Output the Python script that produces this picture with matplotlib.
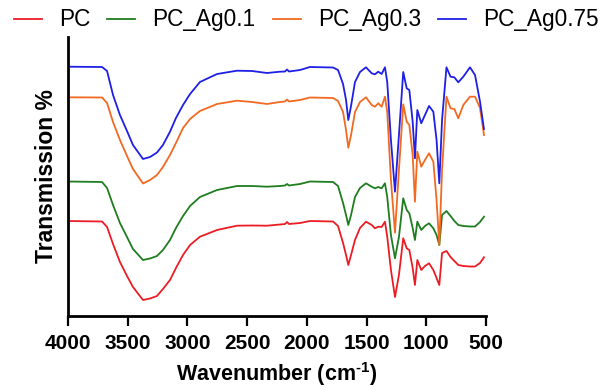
import matplotlib
matplotlib.use('Agg')
import matplotlib.pyplot as plt

# wavenumber positions (cm-1), shared by all spectra
wavenumber = [4000, 3715, 3673, 3623, 3565, 3506, 3456, 3372, 3313, 3255,
              3205, 3146, 3096, 3037, 2978, 2895, 2752, 2585, 2459, 2334,
              2225, 2183, 2166, 2150, 2057, 1974, 1781, 1739, 1697, 1672,
              1653, 1630, 1597, 1555, 1505, 1457, 1430, 1402, 1374, 1346,
              1327, 1296, 1262, 1229, 1193, 1164, 1142, 1114, 1095, 1075,
              1042, 1011, 977, 941, 914, 891, 868, 831, 797, 765,
              732, 690, 634, 592, 550, 517]

# stacked transmission (arbitrary units, offsets included)
t_pc = [95, 94.5, 89, 72, 54, 40, 29, 16, 17.5, 20,
        27, 36, 48, 61, 71, 79.3, 86, 90.3, 90.5, 90.3,
        91.5, 92, 94, 92, 93, 95, 94.5, 90, 73, 61,
        51, 61, 76, 88, 94.3, 91, 87.7, 89.3, 89, 94.3,
        79.3, 46, 19, 41, 77.7, 67.7, 66, 48, 31, 56,
        46, 50, 52.7, 46, 38, 31, 63, 65, 59, 55,
        51, 50, 49.5, 49.5, 53, 58.7]
t_ag01 = [134.5, 134, 128, 111, 93, 79, 67, 56, 57.5, 60,
          66, 76, 88, 100, 110, 119, 126, 130, 130, 129.3,
          130, 130.5, 132, 130.5, 132, 134.5, 134, 130, 113, 101,
          91, 101, 119, 128, 132.7, 129.3, 127.7, 129, 127.7, 132.7,
          119, 81, 57.7, 79, 117.7, 106, 102.7, 88, 76, 94.3,
          86, 90, 92.7, 87.7, 81, 71, 101, 105, 100, 95,
          91, 90, 89.5, 89.5, 94, 99.3]
t_ag03 = [218.7, 218.5, 213, 194, 176, 160, 147, 132.5, 136, 141,
          149, 161, 173, 188, 197, 205, 212, 215.3, 214, 212,
          214, 214.5, 216.5, 214.5, 216, 218.5, 218, 215, 204, 186,
          168.3, 181, 204, 214, 218.7, 211, 209.3, 212.7, 209.3, 219.3,
          204, 136, 83.3, 146, 211.7, 194.3, 191, 161, 114.3, 164.3,
          149.3, 156, 162.7, 154.3, 116, 71, 146, 219.3, 207.7, 207,
          197.7, 211, 219.3, 219.3, 208, 181]
t_ag075 = [249.3, 249, 245, 221, 201, 185, 171, 157, 159, 163.5,
           171, 184.3, 198, 211, 222, 234, 242, 245.3, 245, 243,
           244.3, 244.5, 246.5, 244.5, 246, 249, 248.5, 246, 232, 216,
           196, 210, 234, 244, 248.7, 242.7, 241.7, 244.3, 242, 248.7,
           234, 176, 124.3, 181, 244, 227.7, 226, 194.3, 157.7, 206,
           192.7, 201, 210, 204.3, 176, 132.7, 196, 248.7, 239.3, 238.7,
           233.7, 239.3, 248.7, 241, 214.3, 187]

labels = ['PC', 'PC_Ag0.1', 'PC_Ag0.3', 'PC_Ag0.75']
colors = ['#ec1c24', '#1f7d1f', '#f26a21', '#1f1fe6']
xticks = [4000, 3500, 3000, 2500, 2000, 1500, 1000, 500]

plt.rcParams['font.family'] = ['Liberation Sans', 'DejaVu Sans']
plt.rcParams['mathtext.fontset'] = 'custom'
plt.rcParams['mathtext.rm'] = 'Liberation Sans:bold'
plt.rcParams['mathtext.bf'] = 'Liberation Sans:bold'

fig = plt.figure(figsize=(6.08, 3.90), dpi=100)
ax = fig.add_axes([68 / 608, 1 - 316 / 390, (486 - 68) / 608, (316 - 37) / 390])

for series, lab, col in zip([t_pc, t_ag01, t_ag03, t_ag075], labels, colors):
    ax.plot(wavenumber, series, color=col, lw=1.3, label=lab)

ax.set_xlim(4000, 500)
ax.set_ylim(0, 279)
ax.set_xticks(xticks)
ax.set_yticks([])
for s in ['top', 'right']:
    ax.spines[s].set_visible(False)
for s in ['left', 'bottom']:
    ax.spines[s].set_linewidth(2)
ax.tick_params(axis='x', length=7, width=1.6, pad=6, labelsize=15)
for t in ax.get_xticklabels():
    t.set_fontweight('bold')

ax.set_xlabel('Wavenumber (cm$^{\\text{-}1}$)', fontsize=15.5, fontweight='bold', labelpad=5)
ax.set_ylabel('Transmission %', fontsize=16.5, fontweight='bold', labelpad=7)

fig.legend(loc='upper left', bbox_to_anchor=(9 / 608, 0.99), ncol=4, frameon=False,
           fontsize=16.3, handlelength=1.25, handletextpad=0.75, columnspacing=0.75,
           borderpad=0.2, borderaxespad=0)

fig.savefig('out.png', dpi=100)
